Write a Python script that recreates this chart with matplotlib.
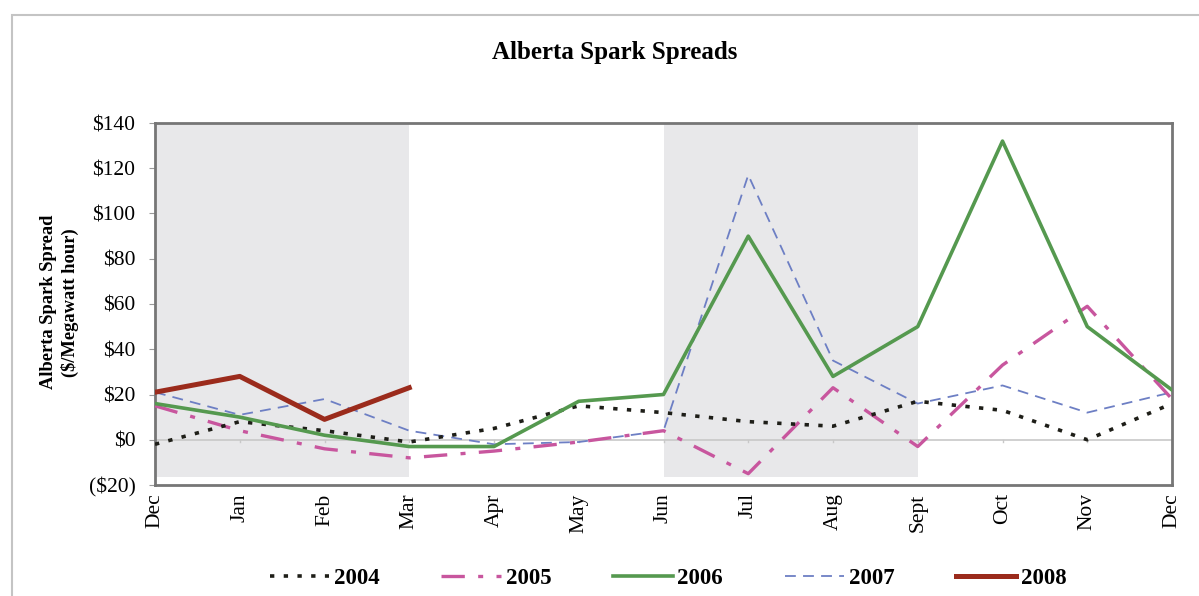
import numpy as np
import matplotlib
matplotlib.use("Agg")
from matplotlib import pyplot as plt
from matplotlib.patches import Rectangle
from matplotlib.lines import Line2D

# month labels along the category axis (Dec through Dec)
months = ["Dec", "Jan", "Feb", "Mar", "Apr", "May", "Jun",
          "Jul", "Aug", "Sept", "Oct", "Nov", "Dec"]

# spark spreads in $/MWh
s2004 = [-2, 8, 4, -1, 5, 15, 12, 8, 6, 17, 13, 0, 16]
s2005 = [15, 4, -4, -8, -5, -1, 4, -15, 23, -3, 33, 59, 18]
s2006 = [16, 10, 2, -3, -3, 17, 20, 90, 28, 50, 132, 50, 22]
s2007 = [21, 11, 18, 4, -2, -1, 4, 117, 35, 16, 24, 12, 21]
s2008 = [21, 28, 9, 23]

# shaded seasons (category index ranges)
seasons = [(0, 3), (6, 9)]

yticks = [-20, 0, 20, 40, 60, 80, 100, 120, 140]
ytick_labels = ["($20)", "$0", "$20", "$40", "$60", "$80", "$100", "$120", "$140"]

serif = ["Liberation Serif", "DejaVu Serif"]
plt.rcParams["font.family"] = serif

fig = plt.figure(figsize=(11.99, 5.96), dpi=100)
fig.patch.set_facecolor("white")

# light outer frame of the chart
fig.patches.append(Rectangle((12 / 1199, -0.05), 1.2, 1 - 15 / 596 + 0.05,
                             transform=fig.transFigure, fill=False,
                             edgecolor="#c4c4c4", linewidth=1.5))

ax = fig.add_axes([155 / 1199, 1 - 485 / 596, (1172 - 155) / 1199, (485 - 123) / 596])
ax.set_facecolor("white")

x = np.arange(len(months))
for a, b in seasons:
    ax.fill_between([a, b], -16.5, 140, color="#e8e8ea", linewidth=0, zorder=0)

ax.axhline(0, color="#c8c8c8", linewidth=1.2, zorder=1)
for xi in x:
    ax.plot([xi, xi], [0, -1.2], color="#c8c8c8", linewidth=1, zorder=1)

ax.plot(x, s2007, color="#6d7fc4", linewidth=1.3, dashes=(6, 4), zorder=3)
ax.plot(x, s2006, color="#55994f", linewidth=2.6, zorder=4)
ax.plot(x, s2005, color="#c8569e", linewidth=2.4, dashes=(7, 4, 1.5, 4), zorder=3)
ax.plot(x, s2004, color="#1e1e18", linewidth=2.6, dashes=(1.2, 2.6), zorder=3)
ax.plot(x[:len(s2008)], s2008, color="#9b2b1c", linewidth=3.6, zorder=5)

ax.set_xlim(0, len(months) - 1)
ax.set_ylim(-20, 140)
ax.set_yticks(yticks)
ax.set_yticklabels(ytick_labels, fontsize=15.5)
ax.set_xticks(x)
ax.set_xticklabels(months, rotation=90, fontsize=15.5)
ax.tick_params(axis="y", length=4, color="#9a9a9a", pad=10)
ax.tick_params(axis="x", length=0, pad=6)
for sp in ax.spines.values():
    sp.set_color("#767676")
    sp.set_linewidth(2)

ax.set_ylabel("Alberta Spark Spread\n($/Megawatt hour)", fontsize=13.3,
              fontweight="bold", linespacing=1.3)
ax.yaxis.set_label_coords((79 - 155) / 1017, 0.505)

fig.text(615 / 1199, 1 - 53 / 596, "Alberta Spark Spreads", ha="center",
         va="center", fontsize=18, fontweight="bold")

handles = [
    Line2D([], [], color="#1e1e18", linewidth=2.6, dashes=(1.2, 2.6)),
    Line2D([], [], color="#c8569e", linewidth=2.4, dashes=(7, 4, 1.5, 4)),
    Line2D([], [], color="#55994f", linewidth=2.6),
    Line2D([], [], color="#6d7fc4", linewidth=1.3, dashes=(6, 4)),
    Line2D([], [], color="#9b2b1c", linewidth=3.6),
]
fig.legend(handles, ["2004", "2005", "2006", "2007", "2008"], loc="center",
           bbox_to_anchor=(668 / 1199, 1 - 578 / 596), ncol=5, frameon=False,
           prop={"family": serif, "weight": "bold", "size": 16.5},
           handlelength=2.6, handletextpad=0.2, columnspacing=2.7)

fig.savefig("out.png", dpi=100)
